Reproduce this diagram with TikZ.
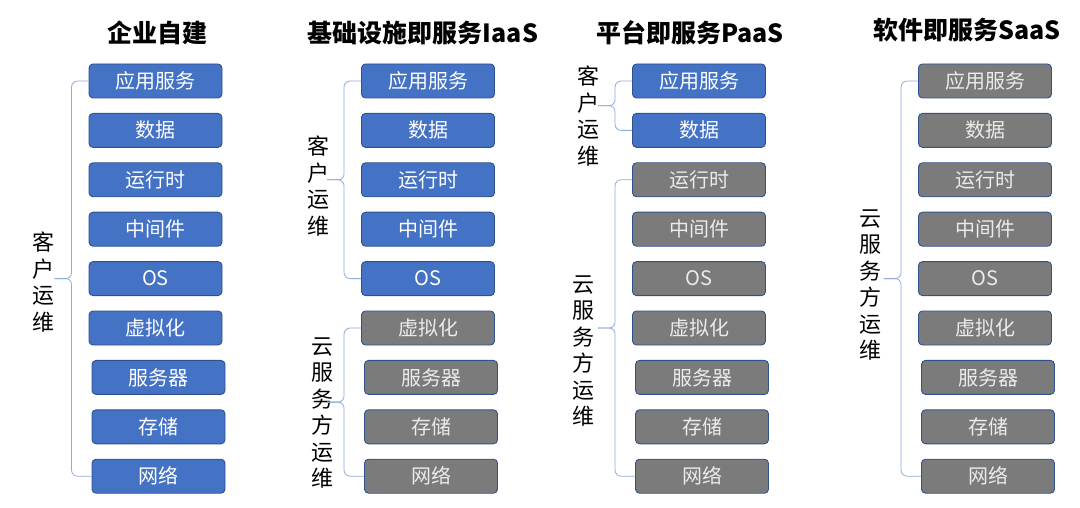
\documentclass[tikz,border=0pt]{standalone}
\usepackage{fontspec}
\setmainfont{Noto Sans CJK SC}
\usetikzlibrary{calc}

\definecolor{ownblue}{HTML}{4472C4}
\definecolor{boxline}{HTML}{2F528F}
\definecolor{cloudgray}{HTML}{7B7B7B}
\definecolor{braceblue}{HTML}{8FAADC}

\begin{document}
\begin{tikzpicture}[x=1pt, y=-1pt, font=\fontsize{20}{23}\selectfont,
    box/.style={draw=boxline, line width=0.9pt, rounded corners=4pt,
      minimum width=133pt, minimum height=34pt, inner sep=0pt},
    own/.style={box, fill=ownblue, text=white},
    cloud/.style={box, fill=cloudgray, text=white!92!black},
    title/.style={font=\fontsize{25}{30}\selectfont\bfseries},
    side/.style={align=center, font=\fontsize{22}{26.5}\selectfont},
    brace/.style={draw=braceblue, line width=0.8pt, rounded corners=6pt} ]

    \useasboundingbox (0,0) rectangle (1080,508);

    % titles
    \node[title] (ta) at (157,33) {企业自建};
    \node[title] (tb) at (423,33) {基础设施即服务IaaS};
    \node[title] (tc) at (690,33) {平台即服务PaaS};
    \node[title] (td) at (967,30) {软件即服务SaaS};

    % stacks: column name / x centre / number of customer-run layers
    \foreach \col/\cx/\nb in {a/155.5/9, b/428/5, c/699/2, d/985/0} {
      \foreach \t [count=\i] in {应用服务,数据,运行时,中间件,OS,虚拟化,服务器,存储,网络} {
        \ifnum\i>\nb \def\kind{cloud}\else\def\kind{own}\fi
        \ifnum\i>6 \def\dx{3}\else\def\dx{0}\fi
        \node[\kind] (\col\i) at (\cx+\dx, 81+49.4*\i-49.4) {\t};
      }
    }

    % side labels
    \node[side] (la) at (43,282) {客\\户\\运\\维};
    \node[side] (lb1) at (318,186) {客\\户\\运\\维};
    \node[side] (lb2) at (322,413) {云\\服\\务\\方\\运\\维};
    \node[side] (lc1) at (588,116) {客\\户\\运\\维};
    \node[side] (lc2) at (583,351) {云\\服\\务\\方\\运\\维};
    \node[side] (ld) at (870,285) {云\\服\\务\\方\\运\\维};

    % braces
    \foreach \top/\bot in {a1/a9, b1/b5, b6/b9, c1/c2, c3/c9, d1/d9} {
      \draw[brace] let \p1=(\top.west), \p2=(\bot.west) in
        (\p1) -- (\x1-17pt,\y1) -- (\x1-17pt,{(\y1+\y2)/2})
        -- (\x1-34pt,{(\y1+\y2)/2});
      \draw[brace] let \p1=(\top.west), \p2=(\bot.west) in
        (\p2) -- (\x1-17pt,\y2) -- (\x1-17pt,{(\y1+\y2)/2})
        -- (\x1-34pt,{(\y1+\y2)/2});
    }

  \end{tikzpicture}
\end{document}
